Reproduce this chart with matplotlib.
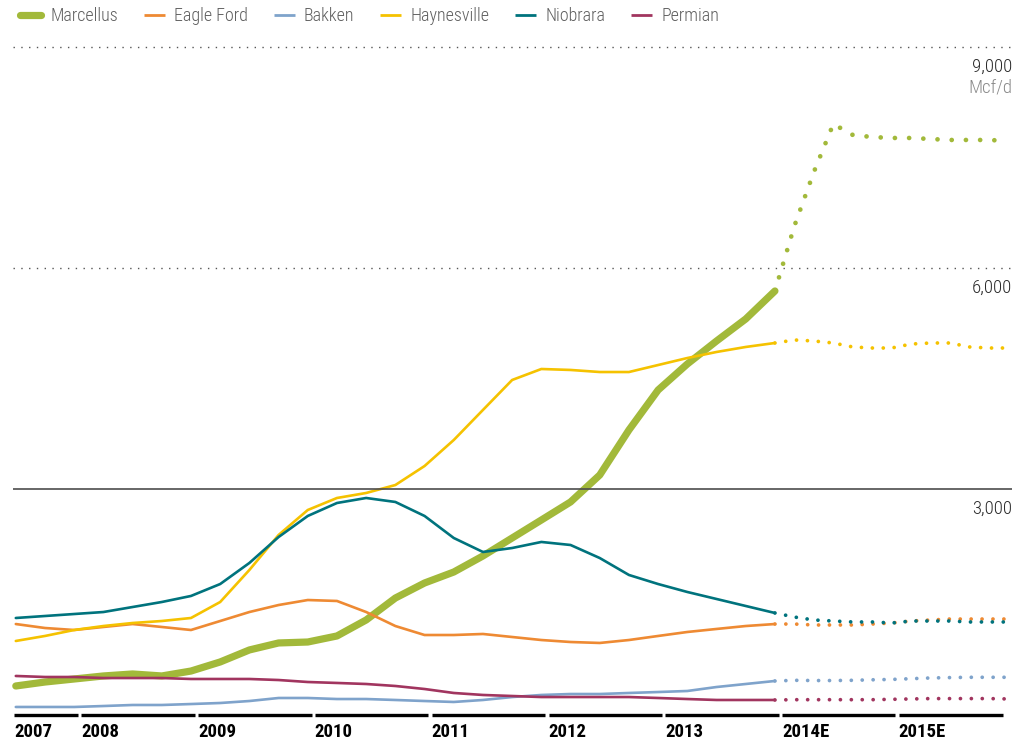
import matplotlib
matplotlib.use("Agg")
import matplotlib.pyplot as plt
from matplotlib.lines import Line2D
import numpy as np

# quarterly history (mid-2007 .. end 2013), then two-monthly estimates
hist_t = np.arange(27) * 0.25 + 2007.45
fc_t = np.arange(13) / 6 + 2013.95

names = ["Marcellus", "Eagle Ford", "Bakken", "Haynesville", "Niobrara", "Permian"]
colors = ["#A2B93A", "#EE8A33", "#7FA3CB", "#F5C200", "#00737D", "#A1355F"]

marcellus = [326, 380, 421, 462, 489, 462, 529, 652, 815, 910, 923, 1005, 1222, 1520,
             1724, 1873, 2091, 2335, 2579, 2824, 3190, 3801, 4344, 4697, 5009, 5308, 5688]
eagle_ford = [1167, 1113, 1086, 1127, 1167, 1127, 1086, 1208, 1330, 1425, 1493, 1480, 1330, 1140,
              1018, 1018, 1032, 991, 950, 923, 910, 950, 1005, 1059, 1100, 1140, 1167]
bakken = [41, 41, 41, 54, 68, 68, 81, 95, 122, 163, 163, 149, 149, 136,
          122, 109, 136, 176, 204, 217, 217, 231, 244, 258, 312, 353, 394]
haynesville = [937, 1005, 1086, 1140, 1181, 1208, 1249, 1466, 1901, 2376, 2715, 2878, 2946, 3054,
               3312, 3665, 4073, 4480, 4629, 4616, 4588, 4588, 4683, 4778, 4860, 4928, 4982]
niobrara = [1249, 1276, 1303, 1330, 1398, 1466, 1548, 1710, 1996, 2348, 2634, 2810, 2878, 2824,
            2634, 2335, 2145, 2199, 2281, 2240, 2063, 1833, 1710, 1602, 1507, 1412, 1317]
permian = [462, 448, 448, 434, 434, 434, 421, 421, 421, 407, 380, 367, 353, 326,
           285, 231, 204, 190, 176, 176, 176, 176, 163, 149, 136, 136, 136]

marcellus_e = [5688, 6570, 7303, 7955, 7806, 7778, 7765, 7765, 7751, 7738, 7738, 7738, 7724]
eagle_ford_e = [1167, 1167, 1154, 1154, 1154, 1167, 1181, 1208, 1222, 1235, 1235, 1235, 1235]
bakken_e = [394, 403, 400, 400, 403, 410, 415, 425, 435, 440, 444, 444, 444]
haynesville_e = [4982, 5023, 5009, 4982, 4928, 4914, 4914, 4968, 4982, 4982, 4928, 4914, 4914]
niobrara_e = [1317, 1262, 1222, 1208, 1195, 1195, 1181, 1208, 1208, 1208, 1195, 1195, 1195]
permian_e = [136, 140, 140, 140, 140, 140, 145, 150, 155, 155, 155, 155, 150]

hist = [marcellus, eagle_ford, bakken, haynesville, niobrara, permian]
est = [marcellus_e, eagle_ford_e, bakken_e, haynesville_e, niobrara_e, permian_e]

year_starts = [2007.426, 2008, 2009, 2010, 2011, 2012, 2013, 2014, 2015]
year_labels = ["2007", "2008", "2009", "2010", "2011", "2012", "2013", "2014E", "2015E"]
x_end = 2015.92

grid_vals = [3000, 6000, 9000]
grid_labels = ["3,000", "6,000", "9,000"]

plt.rcParams["font.family"] = ["Roboto Condensed", "DejaVu Sans"]

fig = plt.figure(figsize=(10.31, 7.46), dpi=100)
ax = fig.add_axes([13 / 1031, 36 / 746, 999 / 1031, 663 / 746])
ax.set_xlim(2007.426, 2015.98)
ax.set_ylim(0, 9000)
ax.axis("off")

# gridlines
ax.axhline(3000, color="#4d4d4d", lw=1.2, zorder=5)
for v in grid_vals[1:]:
    ax.axhline(v, color="#555555", lw=1.0, ls=(0, (1, 4.6)), zorder=0, clip_on=False)
for v, lab in zip(grid_vals, grid_labels):
    ax.annotate(lab, xy=(1, v), xycoords=ax.get_yaxis_transform(), xytext=(0, -8),
                textcoords="offset points", ha="right", va="top", fontsize=13.5,
                fontweight="light", color="#2b2b2b")
ax.annotate("Mcf/d", xy=(1, 9000), xycoords=ax.get_yaxis_transform(), xytext=(0, -23),
            textcoords="offset points", ha="right", va="top", fontsize=13.5,
            fontweight="light", color="#8a8a8a")

# series
for i, (name, c, h, e) in enumerate(zip(names, colors, hist, est)):
    if i == 0:
        lw, pat, z = 5.2, (0, (0.01, 3.0)), 2
        elw = 3.4
    else:
        lw, pat, z = 1.9, (0, (0.01, 2.9)), 3
        elw = 2.7
    ax.plot(hist_t, h, color=c, lw=lw, solid_capstyle="round", solid_joinstyle="round",
            zorder=z, clip_on=False)
    ax.plot(fc_t, e, color=c, lw=elw, ls=pat, dash_capstyle="round", zorder=z, clip_on=False)

# segmented year axis
xt = ax.get_xaxis_transform()
seg_ends = year_starts[1:] + [x_end]
for s, en, lab in zip(year_starts, seg_ends, year_labels):
    ax.plot([s + 0.012, en - 0.018], [-0.008, -0.008], color="black", lw=2.4,
            transform=xt, clip_on=False, solid_capstyle="butt")
    ax.text(s + 0.01, -0.033, lab, transform=xt, ha="left", va="center",
            fontsize=13.5, fontweight="bold", color="black")

# legend
handles = []
for i, (name, c) in enumerate(zip(names, colors)):
    handles.append(Line2D([], [], color=c, lw=5.2 if i == 0 else 2.0,
                          solid_capstyle="round" if i == 0 else "butt"))
fig.legend(handles, names, loc="upper left", bbox_to_anchor=(0.004, 1.012), ncol=6, frameon=False,
           handlelength=1.15, handletextpad=0.5, columnspacing=1.45,
           prop={"size": 13, "weight": "light"}, labelcolor="#5f5f5f")

fig.savefig("out.png", dpi=100)
